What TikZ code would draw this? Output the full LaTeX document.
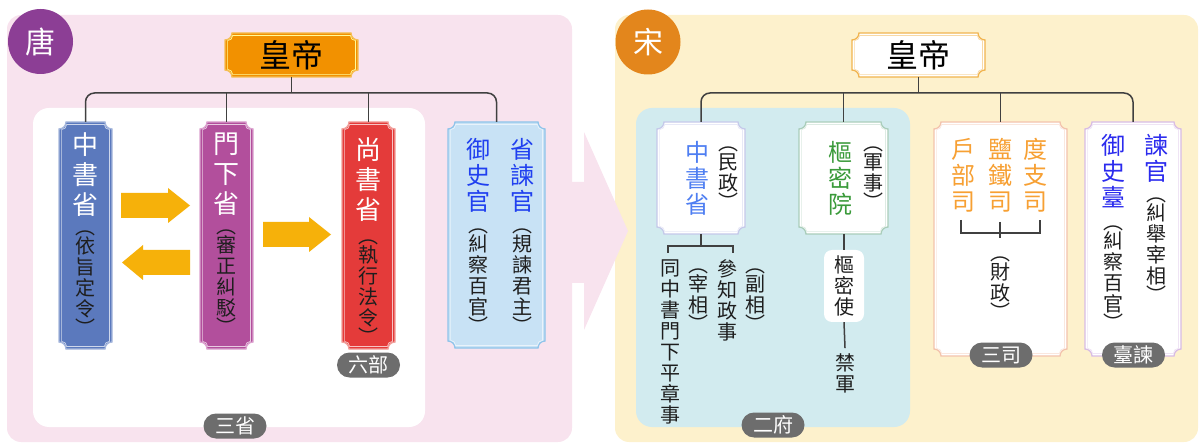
\documentclass[tikz,border=0pt]{standalone}
\usepackage{fontspec}
\newfontfamily\cjk{Noto Sans CJK TC}
\usetikzlibrary{calc}
\pgfdeclarelayer{bg}\pgfdeclarelayer{mid}
\pgfsetlayers{bg,mid,main}
\definecolor{pinkp}{HTML}{F8E3EE}
\definecolor{yellowp}{HTML}{FDF1CC}
\definecolor{cyanp}{HTML}{D2EBEF}
\definecolor{cblue}{HTML}{5B79BD}
\definecolor{cblueb}{HTML}{A7B8DD}
\definecolor{cpur}{HTML}{B24F9C}
\definecolor{cpurb}{HTML}{DDA3D0}
\definecolor{cred}{HTML}{E43B3A}
\definecolor{credb}{HTML}{F2A09B}
\definecolor{clb}{HTML}{C8E2F5}
\definecolor{clbb}{HTML}{90C4EA}
\definecolor{tblue}{HTML}{2040F0}
\definecolor{corange}{HTML}{F29100}
\definecolor{corangeb}{HTML}{F5BE55}
\definecolor{ctang}{HTML}{8C3E95}
\definecolor{csong}{HTML}{E3861C}
\definecolor{cpill}{HTML}{6D6D6D}
\definecolor{tzsb}{HTML}{4E7EF2}
\definecolor{bzs}{HTML}{C5C9EA}
\definecolor{tgreen}{HTML}{3A9A3A}
\definecolor{bgreen}{HTML}{A9CDBA}
\definecolor{torange}{HTML}{F7A033}
\definecolor{bsansi}{HTML}{F3C3AC}
\definecolor{btj}{HTML}{D8BCE4}
\definecolor{ttj}{HTML}{2B2BEE}
\definecolor{brhd}{HTML}{F1B44E}
\definecolor{carrow}{HTML}{F6B10A}
\definecolor{cline}{HTML}{404040}
\definecolor{tdark}{HTML}{1E1E1E}
\newcommand\notch[3]{($(#1.north west)+({#2+#3},#2)$) -- ($(#1.north east)+({-#2-#3},#2)$) arc[start angle=180,end angle=90,radius=#3] -- ($(#1.south east)+(-#2,{-#2-#3})$) arc[start angle=270,end angle=180,radius=#3] -- ($(#1.south west)+({#2+#3},-#2)$) arc[start angle=0,end angle=-90,radius=#3] -- ($(#1.north west)+(#2,{#2+#3})$) arc[start angle=90,end angle=0,radius=#3] -- cycle}
\newcommand\fancybox[4]{\path[fill=#2,draw=#3,line width=1.3] \notch{#1}{0}{7}; \path[draw=#4,line width=0.7] \notch{#1}{2.6}{5};}
\newcommand\pa{︵\\[-2pt]}
\newcommand\pb{\\[-2pt]︶}
\begin{document}
\begin{tikzpicture}[x=1pt,y=-1pt,
  boxn/.style={inner sep=0,outer sep=0},
  conn/.style={draw=cline,line width=1.5},
  vmain/.style={font=\cjk\fontsize{26}{30}\selectfont,align=center,inner sep=0,text=white},
  vsub/.style={font=\cjk\fontsize{20}{21}\selectfont,align=center,inner sep=0,text=tdark},
  vmainr/.style={font=\cjk\fontsize{24}{26}\selectfont,align=center,inner sep=0},
  pillbox/.style={fill=cpill,rounded corners=12.5,minimum width=63,minimum height=25,inner sep=0,text=white,font=\cjk\fontsize{20}{20}\selectfont},
  circ/.style={circle,minimum size=65,inner sep=0,text=white,font=\cjk\fontsize{30}{30}\selectfont},
  hdtext/.style={font=\cjk\fontsize{32}{32}\selectfont,text=black}]
\useasboundingbox (0,0) rectangle (1201,443);
\begin{pgfonlayer}{bg}
\fill[pinkp,rounded corners=14] (7,15) rectangle (572,442);
\fill[yellowp,rounded corners=14] (615,15) rectangle (1198,442);
\fill[pinkp] (571,182) -- (584,182) -- (584,132) -- (628,231) -- (584,330) -- (584,283) -- (571,283) -- cycle;
\fill[white,rounded corners=16] (33,108) rectangle (425,427);
\fill[cyanp,rounded corners=16] (636,108) rectangle (910,427);
\end{pgfonlayer}
% box nodes
\node[boxn,hdtext,minimum width=133,minimum height=44] (lhd) at (291.5,55) {皇帝};
\node[boxn,hdtext,minimum width=133,minimum height=44] (rhd) at (918.5,55) {皇帝};
\node[boxn,minimum width=53,minimum height=227] (tzs) at (85.5,235.5) {};
\node[boxn,minimum width=53,minimum height=227] (tmx) at (226.5,235.5) {};
\node[boxn,minimum width=53,minimum height=227] (tsh) at (368.5,235.5) {};
\node[boxn,minimum width=97,minimum height=226] (tyu) at (496.5,235) {};
\node[boxn,minimum width=88,minimum height=112] (szs) at (701,178) {};
\node[boxn,minimum width=89,minimum height=112] (szm) at (843.5,178) {};
\node[boxn,minimum width=133,minimum height=234] (ssj) at (1000.5,239) {};
\node[boxn,minimum width=96,minimum height=234] (stj) at (1133,239) {};
\begin{pgfonlayer}{mid}
\fancybox{lhd}{corange}{corangeb}{yellow!40!white}
\fancybox{rhd}{white}{brhd}{brhd!50!white}
\fancybox{tzs}{cblue}{cblueb}{white!70!cblue}
\fancybox{tmx}{cpur}{cpurb}{white!70!cpur}
\fancybox{tsh}{cred}{credb}{white!70!cred}
\fancybox{tyu}{clb}{clbb}{white!60!clb}
\fancybox{szs}{white}{bzs}{bzs!40!white}
\fancybox{szm}{white}{bgreen}{bgreen!40!white}
\fancybox{ssj}{white}{bsansi}{bsansi!40!white}
\fancybox{stj}{white}{btj}{btj!40!white}
\end{pgfonlayer}
% circles
\node[circ,fill=ctang] (tang) at (40.5,41.5) {唐};
\node[circ,fill=csong] (song) at (648,42) {宋};
% left connectors
\coordinate (lbar) at (0,93);
\draw[conn,rounded corners=9] (tzs.north) |- (tyu.north |- lbar) -- (tyu.north);
\draw[conn] (lhd.south) -- (lhd.south |- lbar);
\draw[conn] (tmx.north) -- (tmx.north |- lbar);
\draw[conn] (tsh.north) -- (tsh.north |- lbar);
% arrows
\fill[carrow] (121,193) -- (168,193) -- (168,188) -- (190,205.5) -- (168,223) -- (168,218) -- (121,218) -- cycle;
\fill[carrow] (190,250) -- (143,250) -- (143,245) -- (122,262.5) -- (143,280) -- (143,275) -- (190,275) -- cycle;
\fill[carrow] (263,222) -- (309,222) -- (309,217) -- (331,234.5) -- (309,252) -- (309,247) -- (263,247) -- cycle;
% left texts
\node[vmain] (tzs1) at (85.5,175) {中\\書\\省};
\node[vsub] (tzs2) at (85.5,283) {\pa 依\\旨\\定\\令\pb};
\node[vmain] (tmx1) at (226.5,174) {門\\下\\省};
\node[vsub] (tmx2) at (226.5,282) {\pa 審\\正\\糾\\駁\pb};
\node[vmain] (tsh1) at (368.5,180) {尚\\書\\省};
\node[vsub] (tsh2) at (368.5,292) {\pa 執\\行\\法\\令\pb};
\node[vmainr,text=tblue] (tyu1) at (478,175) {御\\史\\官};
\node[vsub] (tyu2) at (478,281) {\pa 糾\\察\\百\\官\pb};
\node[vmainr,text=tblue] (tyu3) at (522,175) {省\\諫\\官};
\node[vsub] (tyu4) at (522,281) {\pa 規\\諫\\君\\主\pb};
\node[pillbox] (p1) at (235,426) {三省};
\node[pillbox] (p2) at (368.5,365) {六部};
% right connectors
\coordinate (rbar) at (0,93);
\draw[conn,rounded corners=9] (szs.north) |- (stj.north |- rbar) -- (stj.north);
\draw[conn] (rhd.south) -- (rhd.south |- rbar);
\draw[conn] (szm.north) -- (szm.north |- rbar);
\draw[conn] (ssj.north) -- (ssj.north |- rbar);
% song zhongshu
\node[vmainr,text=tzsb] (szs1) at (697,178) {中\\書\\省};
\node[vsub] (szs2) at (728,178) {\pa 民\\政\pb};
\node[vmainr,text=tgreen] (szm1) at (840,178) {樞\\密\\院};
\node[vsub] (szm2) at (873,178) {\pa 軍\\事\pb};
\coordinate (zsb) at (701,246);
\coordinate (zb1) at (668,253);
\coordinate (zb2) at (733,253);
\draw[conn] (szs.south) -- (zsb);
\draw[conn] (zb1) |- (zsb) -| (zb2);
\node[vsub] (s1) at (670,341.5) {同\\中\\書\\門\\下\\平\\章\\事};
\node[vsub] (s2) at (698,300) {\pa 宰\\相\pb};
\node[vsub] (s3) at (727,300) {參\\知\\政\\事};
\node[vsub] (s4) at (755,300) {\pa 副\\相\pb};
\node[vsub,fill=white,rounded corners=8,minimum width=40,minimum height=72] (sms) at (844,286) {樞\\密\\使};
\node[vsub,inner sep=5] (jj) at (845,373) {禁\\軍};
\draw[conn] (szm.south -| sms.north) -- (sms.north);
\draw[conn] (sms.south) -- (jj.north);
% sansi
\node[vmainr,text=torange] (sj1) at (963,175) {戶\\部\\司};
\node[vmainr,text=torange] (sj2) at (1000,175) {鹽\\鐵\\司};
\node[vmainr,text=torange] (sj3) at (1035,175) {度\\支\\司};
\coordinate (sb1) at (961,220);
\coordinate (sb3) at (1040,220);
\coordinate (sbm) at (1000,233);
\coordinate (sbt) at (1000,222);
\coordinate (sbb) at (1000,238);
\draw[conn] (sb1) |- (sbm) -| (sb3);
\draw[conn] (sbt) -- (sbb);
\node[vsub] (sj4) at (1000,288) {\pa 財\\政\pb};
% taijian
\node[vmainr,text=ttj] (tj1) at (1113,171) {御\\史\\臺};
\node[vsub] (tj2) at (1113,278) {\pa 糾\\察\\百\\官\pb};
\node[vmainr,text=ttj] (tj3) at (1156,158) {諫\\官};
\node[vsub] (tj4) at (1156,250) {\pa 糾\\舉\\宰\\相\pb};
\node[pillbox] (p3) at (773,425) {二府};
\node[pillbox] (p4) at (1001,355) {三司};
\node[pillbox] (p5) at (1133.5,355) {臺諫};
\end{tikzpicture}
\end{document}
